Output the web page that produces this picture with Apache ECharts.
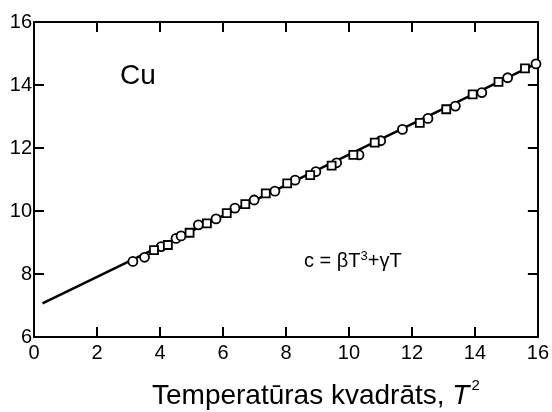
<!DOCTYPE html>
<html>
<head>
<meta charset="utf-8">
<script src="https://cdn.jsdelivr.net/npm/echarts@6/dist/echarts.min.js"></script>
<style>html,body{margin:0;padding:0;background:#fff}#c{width:552px;height:412px}</style>
</head>
<body>
<div id="c"></div>
<script>
// Fitted line c/T vs T^2
const lineX = [0.27, 16];
const lineY = [7.07, 14.7];
// Measured points (circles)
const circleX = [3.14, 3.51, 4.04, 4.51, 4.67, 5.22, 5.78, 6.38, 6.99, 7.65, 8.29, 8.95, 9.61, 10.32, 11.01, 11.70, 12.51, 13.38, 14.22, 15.04, 15.94];
const circleY = [8.40, 8.53, 8.87, 9.13, 9.21, 9.56, 9.75, 10.09, 10.35, 10.63, 10.98, 11.25, 11.53, 11.78, 12.23, 12.59, 12.94, 13.33, 13.76, 14.23, 14.67];
// Measured points (squares)
const squareX = [3.81, 4.25, 4.94, 5.49, 6.12, 6.71, 7.36, 8.04, 8.77, 9.45, 10.14, 10.82, 12.25, 13.09, 13.93, 14.75, 15.59];
const squareY = [8.76, 8.92, 9.31, 9.61, 9.93, 10.22, 10.56, 10.88, 11.14, 11.44, 11.78, 12.17, 12.80, 13.23, 13.70, 14.10, 14.53];
// Axis ranges / ticks
const xMin = 0, xMax = 16, xStep = 2;
const yMin = 6, yMax = 16, yStep = 2;

const zip = (a, b) => a.map((v, i) => [v, b[i]]);
const FONT = '"Liberation Sans", Arial, sans-serif';

const axisCommon = {
  axisLine: { show: true, onZero: false, lineStyle: { color: '#000', width: 2 } },
  axisTick: { show: true, inside: true, length: 10, lineStyle: { color: '#000', width: 2 } },
  splitLine: { show: false }
};

const chart = echarts.init(document.getElementById('c'), null, { renderer: 'canvas' });
chart.setOption({
  animation: false,
  backgroundColor: '#fff',
  grid: { left: 34, right: 12, top: 22, bottom: 75 },
  xAxis: [
    Object.assign({ type: 'value', position: 'bottom', min: xMin, max: xMax, interval: xStep,
      axisLabel: { color: '#000', fontSize: 20, fontFamily: FONT, margin: 6 } }, axisCommon),
    Object.assign({ type: 'value', position: 'top', min: xMin, max: xMax, interval: xStep,
      axisLabel: { show: false } }, axisCommon)
  ],
  yAxis: [
    Object.assign({ type: 'value', position: 'left', min: yMin, max: yMax, interval: yStep,
      axisLabel: { color: '#000', fontSize: 20, fontFamily: FONT, margin: 2 } }, axisCommon),
    Object.assign({ type: 'value', position: 'right', min: yMin, max: yMax, interval: yStep,
      axisLabel: { show: false } }, axisCommon)
  ],
  series: [
    { type: 'line', data: zip(lineX, lineY), showSymbol: false, symbol: 'none',
      lineStyle: { color: '#000', width: 2.5 }, z: 1 },
    { type: 'scatter', data: zip(circleX, circleY), symbol: 'circle', symbolSize: 9,
      itemStyle: { color: '#fff', borderColor: '#000', borderWidth: 1.8, opacity: 1 }, z: 3 },
    { type: 'scatter', data: zip(squareX, squareY), symbol: 'rect', symbolSize: 8,
      itemStyle: { color: '#fff', borderColor: '#000', borderWidth: 1.8, opacity: 1 }, z: 3 }
  ],
  graphic: [
    { type: 'text', left: 120, top: 62,
      style: { text: 'Cu', font: '28px ' + FONT, fill: '#000' } },
    { type: 'text', left: 304, top: 250,
      style: { text: 'c = βT{s|3}+γT', font: '20px ' + FONT, fill: '#000',
        rich: { s: { fontSize: 13, fontFamily: FONT, padding: [0,0,10,0] } } } },
    { type: 'text', left: 152, top: 378,
      style: { text: 'Temperatūras kvadrāts, {i|T}{s|2}', font: '28px ' + FONT, fill: '#000',
        rich: { i: { fontSize: 28, fontStyle: 'italic', fontFamily: FONT },
                s: { fontSize: 15, fontFamily: FONT, padding: [0,0,22,2] } } } }
  ]
});
</script>
</body>
</html>
